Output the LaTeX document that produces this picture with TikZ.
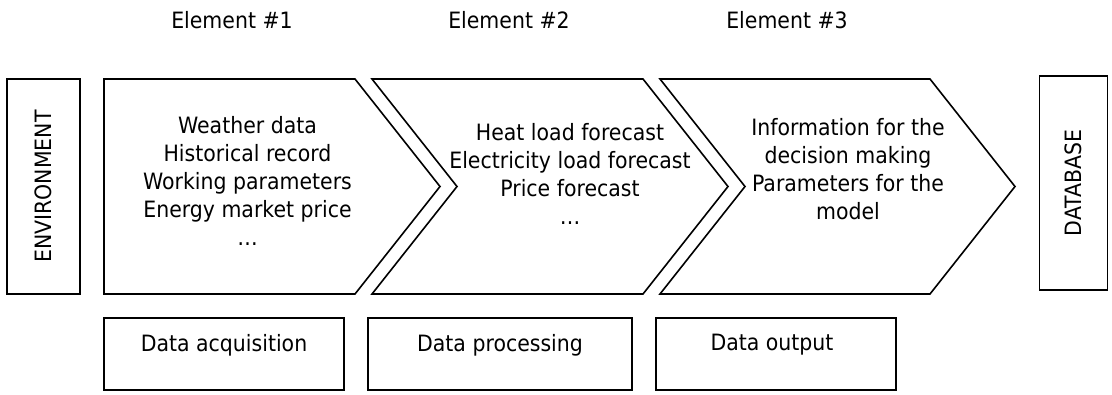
\documentclass[tikz,border=0pt]{standalone}
\usepackage{fontspec}
\setmainfont{DejaVu Sans}[FakeStretch=0.91]
\usetikzlibrary{positioning}

\begin{document}
\begin{tikzpicture}[x=1pt, y=-1pt, line width=1.6pt,
    bodytext/.style={font=\fontsize{22.5}{28}\selectfont, align=center, inner sep=0pt},
    sidebox/.style={draw, rotate=90, font=\fontsize{22.5}{28}\selectfont, inner sep=0pt},
    stagebox/.style={draw, minimum height=72, inner sep=0pt}]
    \useasboundingbox (0,0) rectangle (1112,394);

    % headings
    \node[bodytext] (el1) at (232,20) {Element \#1};
    \node[bodytext] (el2) at (509,20) {Element \#2};
    \node[bodytext] (el3) at (787,20) {Element \#3};

    % side boxes
    \node[sidebox, minimum width=215, minimum height=73] (env) at (43.5,186.5) {ENVIRONMENT};
    \node[sidebox, minimum width=214, minimum height=68] (db) at (1073.5,183) {DATABASE};

    % chevrons
    \draw (104,79) -- (355,79) -- (440,186.5) -- (355,294) -- (104,294) -- cycle;
    \draw (372,79) -- (643,79) -- (728,186.5) -- (643,294) -- (372,294) -- (457,186.5) -- cycle;
    \draw (660,79) -- (930,79) -- (1015,186.5) -- (930,294) -- (660,294) -- (745,186.5) -- cycle;

    \node[bodytext] (inputs) at (247.5,181) {Weather data\\Historical record\\Working parameters\\Energy market price\\…};
    \node[bodytext] (forecasts) at (570,174) {Heat load forecast\\Electricity load forecast\\Price forecast\\…};
    \node[bodytext] (outputs) at (848,169) {Information for the\\decision making\\Parameters for the\\model};

    % stage boxes
    \node[stagebox, minimum width=240] (acq) at (224,354) {};
    \node[stagebox, minimum width=264] (proc) at (500,354) {};
    \node[stagebox, minimum width=240] (out) at (776,354) {};
    \node[bodytext] (acqtxt) at (224,345) {Data acquisition};
    \node[bodytext] (proctxt) at (500,345) {Data processing};
    \node[bodytext] (outtxt) at (772,345) {Data output};
\end{tikzpicture}
\end{document}
